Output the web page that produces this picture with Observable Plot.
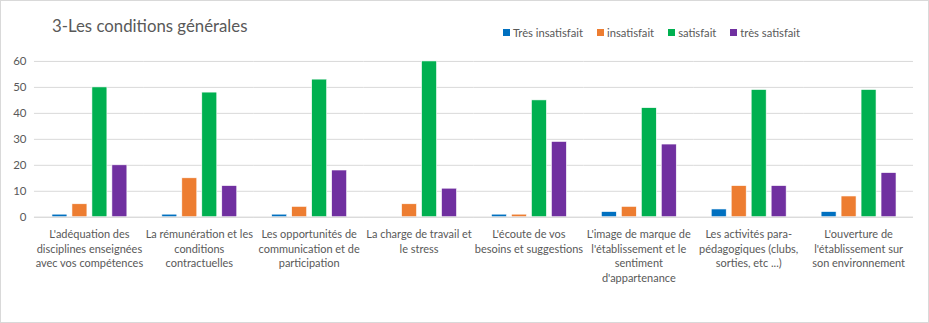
<!DOCTYPE html>
<html>
<head>
<meta charset="utf-8">
<script src="https://cdn.jsdelivr.net/npm/d3@7"></script>
<script src="https://cdn.jsdelivr.net/npm/@observablehq/plot@0.6"></script>
<style>
  html, body { margin: 0; padding: 0; background: #fff; }
  #wrap { position: relative; width: 929px; height: 323px; box-sizing: border-box; border: 1px solid #d9d9d9; font-family: Lato, "Open Sans", sans-serif; overflow: hidden; }
  #title { position: absolute; left: 51px; top: 14px; font-size: 16.8px; color: #595959; white-space: nowrap; }
  #legend { position: absolute; left: 502px; top: 25px; display: flex; font-size: 11.2px; color: #595959; white-space: nowrap; }
  #legend .item { display: flex; align-items: center; margin-right: 14px; }
  #legend .sw { width: 7px; height: 7px; margin-right: 3px; }
  #chart { position: absolute; left: -1px; top: -1px; }
</style>
</head>
<body>
<div id="wrap">
  <div id="chart"></div>
  <div id="title"></div>
  <div id="legend"></div>
</div>
<script>
const titleText = "3-Les conditions générales";
const categories = [
  "L'adéquation des\ndisciplines enseignées\navec vos compétences",
  "La rémunération et les\nconditions\ncontractuelles",
  "Les opportunités de\ncommunication et de\nparticipation",
  "La charge de travail et\nle stress",
  "L'écoute de vos\nbesoins et suggestions",
  "L'image de marque de\nl'établissement et le\nsentiment\nd'appartenance",
  "Les activités para-\npédagogiques (clubs,\nsorties, etc ...)",
  "L'ouverture de\nl'établissement sur\nson environnement"
];
const series = ["Très insatisfait", "insatisfait", "satisfait", "très satisfait"];
const colors = ["#0070C0", "#ED7D31", "#00B050", "#7030A0"];
const tresInsatisfait = [1, 1, 1, 0, 1, 2, 3, 2];
const insatisfait = [5, 15, 4, 5, 1, 4, 12, 8];
const satisfait = [50, 48, 53, 60, 45, 42, 49, 49];
const tresSatisfait = [20, 12, 18, 11, 29, 28, 12, 17];
const yTicks = [0, 10, 20, 30, 40, 50, 60];

const valuesBySeries = [tresInsatisfait, insatisfait, satisfait, tresSatisfait];
const data = [];
categories.forEach((c, i) => {
  series.forEach((s, j) => data.push({category: c, series: s, value: valuesBySeries[j][i]}));
});

document.getElementById("title").textContent = titleText;
const legend = document.getElementById("legend");
series.forEach((s, j) => {
  const it = document.createElement("div");
  it.className = "item";
  const sw = document.createElement("div");
  sw.className = "sw";
  sw.style.background = colors[j];
  const tx = document.createElement("span");
  tx.textContent = s;
  it.appendChild(sw); it.appendChild(tx);
  legend.appendChild(it);
});

const chart = Plot.plot({
  width: 929,
  height: 323,
  marginTop: 61,
  marginBottom: 106,
  marginLeft: 33,
  marginRight: 15,
  style: {fontFamily: "Lato, 'Open Sans', sans-serif", fontSize: "11px", color: "#595959", background: "transparent"},
  fx: {domain: categories, padding: 0, label: null},
  x: {domain: series, paddingInner: 0.25, paddingOuter: 0.875, axis: null},
  y: {domain: [0, 60], label: null},
  color: {domain: series, range: colors},
  marks: [
    Plot.gridY(yTicks, {stroke: "#d9d9d9", strokeOpacity: 1, strokeWidth: 1}),
    Plot.axisY(yTicks, {tickSize: 0, tickPadding: 8, fill: "#595959", fontSize: 11.5, label: null}),
    Plot.axisFx({anchor: "bottom", tickSize: 0, tickPadding: 10, fill: "#595959", fontSize: 11, lineHeight: 1.35, label: null}),
    Plot.barY(data, {fx: "category", x: "series", y: "value", fill: "series", stroke: "white", strokeWidth: 0.6}),
    Plot.ruleY([0], {stroke: "#d9d9d9"})
  ]
});
document.getElementById("chart").appendChild(chart);
</script>
</body>
</html>
